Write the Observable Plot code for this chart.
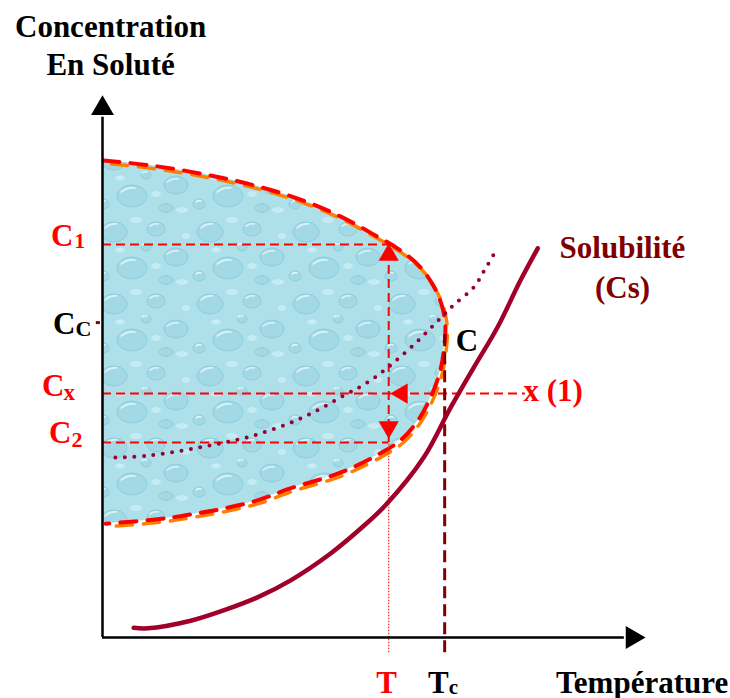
<!DOCTYPE html>
<html><head><meta charset="utf-8">
<script src="https://cdn.jsdelivr.net/npm/d3@7"></script>
<script src="https://cdn.jsdelivr.net/npm/@observablehq/plot@0.6"></script>
<style>html,body{margin:0;padding:0;background:#fff} #chart{width:730px;height:698px}</style>
</head><body><div id="chart"></div>
<script>
// ---- data (arbitrary units: temperature 0-100, concentration 0-100) ----
// boundary of the metastable (liquid-liquid) zone, [temperature, concentration]
const zoneBoundary = [[0.2,88.0],[8.9,87.1],[18.2,85.6],[27.5,83.6],[36.8,80.8],[44.2,77.7],[49.8,74.7],[55.4,71.4],[59.1,68.3],[61.5,64.9],[63.0,61.5],[63.7,58.1],[63.6,54.5],[62.8,49.3],[61.0,44.3],[58.6,40.0],[55.4,36.4],[51.7,34.0],[44.2,30.4],[34.9,27.5],[28.8,25.3],[22.5,23.8],[16.4,22.7],[10.2,21.8],[0.6,21.0]];
// solubility curve Cs
const solubility = [[5.8,1.8],[8.4,1.7],[16.4,3.1],[22.5,5.0],[28.8,7.4],[34.9,10.5],[42.4,15.5],[48.0,20.1],[52.6,24.4],[59.7,33.2],[64.7,42.4],[69.0,49.8],[73.4,57.2],[77.7,65.9],[80.9,71.8]];
// dotted curve (spinodal-like)
const dottedCurve = [[2.4,33.2],[8.9,33.6],[18.2,35.1],[27.5,37.1],[36.8,40.4],[44.8,44.6],[49.8,47.4],[54.1,50.7],[59.1,55.2],[62.8,58.9],[65.2,61.3],[69.0,64.6],[71.2,68.1],[73.4,71.8]];
// levels
const concC1 = 72.5, concCc = 58.1, concCx = 45.0, concC2 = 36.0;
const tempT = 53.2, tempTc = 63.6, tempX1 = 78.6;
const axisMaxT = 100.9, axisMaxC = 100;

const serif = "Liberation Serif, Times New Roman, serif";
const txt = (data, o) => Plot.text(data, {fontFamily: serif, fontWeight: "bold", fontSize: 31, lineAnchor: "bottom", ...o});

const plot = Plot.plot({
  width: 730, height: 698,
  x: {domain: [0, 100], range: [102, 640], axis: null},
  y: {domain: [0, 100], range: [637, 95], axis: null},
  style: {background: "white", overflow: "visible"},
  marks: [
    // zone fill
    Plot.areaX(zoneBoundary, {y: d => d[1], x1: 0, x2: d => d[0], curve: "catmull-rom", fill: "#aee0ea"}),
    // boundary dashed (orange under red)
    Plot.line(zoneBoundary, {x: d => d[0], y: d => d[1], curve: "catmull-rom", stroke: "#ff7f00", strokeWidth: 3.5, strokeDasharray: "16 11", strokeDashoffset: -6, dx: 2, dy: 3}),
    Plot.line(zoneBoundary, {x: d => d[0], y: d => d[1], curve: "catmull-rom", stroke: "#ff0000", strokeWidth: 4, strokeDasharray: "16 11"}),
    // horizontal level lines
    Plot.ruleY([concC1, concC2], {y: d => d, x1: 0, x2: tempT, stroke: "#ff0000", strokeWidth: 2, strokeDasharray: "9 5"}),
    Plot.ruleY([concCx], {y: d => d, x1: 0, x2: tempX1, stroke: "#ff0000", strokeWidth: 2, strokeDasharray: "9 5"}),
    // T vertical: dashed double arrow and dotted drop line
    Plot.ruleX([tempT], {x: d => d, y1: concC2, y2: concC1, stroke: "#ff0000", strokeWidth: 2, strokeDasharray: "9 5"}),
    Plot.ruleX([tempT], {x: d => d, y1: -2.8, y2: concC2, stroke: "#ff2020", strokeWidth: 1.2, strokeDasharray: "1.5 1.5"}),
    // Tc vertical
    Plot.ruleX([tempTc], {x: d => d, y1: -2.8, y2: concCc - 1.5, stroke: "#800000", strokeWidth: 3, strokeDasharray: "12 6"}),
    // Cc tick
    Plot.ruleY([concCc], {y: d => d, x1: -1.15, x2: -0.4, stroke: "#800000", strokeWidth: 3}),
    // dotted curve
    Plot.line(dottedCurve, {x: d => d[0], y: d => d[1], curve: "catmull-rom", stroke: "#990033", strokeWidth: 4, strokeDasharray: "0 9.5", strokeLinecap: "round"}),
    // solubility curve
    Plot.line(solubility, {x: d => d[0], y: d => d[1], curve: "catmull-rom", stroke: "#a0002a", strokeWidth: 4.5}),
    // red arrowheads
    Plot.dot([[tempT, 72.7]], {x: d => d[0], y: d => d[1], symbol: "triangle", r: 7.5, fill: "#ff0000", stroke: "none", dy: 11.5}),
    Plot.dot([[tempT, 36.7]], {x: d => d[0], y: d => d[1], symbol: "triangle", r: 7.5, fill: "#ff0000", stroke: "none", rotate: 180, dy: -11.5}),
    Plot.dot([[53.5, concCx]], {x: d => d[0], y: d => d[1], symbol: "triangle", r: 7.5, fill: "#ff0000", stroke: "none", rotate: -90, dx: 11.5}),
    // axes
    Plot.ruleX([0], {x: d => d, y1: 0, y2: 96, stroke: "black", strokeWidth: 2.5}),
    Plot.ruleY([0], {y: d => d, x1: 0, x2: 97, stroke: "black", strokeWidth: 2.5}),
    Plot.dot([[0, axisMaxC]], {x: d => d[0], y: d => d[1], symbol: "triangle", r: 8.5, fill: "black", stroke: "none", dy: 13}),
    Plot.dot([[axisMaxT, 0]], {x: d => d[0], y: d => d[1], symbol: "triangle", r: 8.5, fill: "black", stroke: "none", rotate: 90, dx: -13}),
    // axis titles
    txt(["Concentration\nEn Soluté"], {x: 1.5, y: 103.7, text: d => d, textAnchor: "middle", lineHeight: 1.23, fill: "black"}),
    txt(["Température"], {x: 116.3, y: 0, dy: 55, text: d => d, textAnchor: "end", fill: "black"}),
    // concentration labels
    txt(["C"], {x: 0, y: concC1, dx: -29, dy: 1, text: d => d, textAnchor: "end", fill: "#ff0000"}),
    txt(["1"], {x: 0, y: concC1, dx: -28, dy: 3, text: d => d, textAnchor: "start", fill: "#ff0000", fontSize: 21}),
    txt(["C"], {x: 0, y: concCc, dx: -27, dy: 11, text: d => d, textAnchor: "end", fill: "black"}),
    txt(["C"], {x: 0, y: concCc, dx: -27, dy: 13, text: d => d, textAnchor: "start", fill: "black", fontSize: 22}),
    txt(["C"], {x: 0, y: concCx, dx: -38, dy: 2, text: d => d, textAnchor: "end", fill: "#ff0000"}),
    txt(["x"], {x: 0, y: concCx, dx: -39, dy: 6, text: d => d, textAnchor: "start", fill: "#ff0000", fontSize: 23}),
    txt(["C"], {x: 0, y: concC2, dx: -31, dy: 1, text: d => d, textAnchor: "end", fill: "#ff0000"}),
    txt(["2"], {x: 0, y: concC2, dx: -31, dy: 5, text: d => d, textAnchor: "start", fill: "#ff0000", fontSize: 22}),
    // temperature labels
    txt(["T"], {x: tempT, y: 0, dx: -2, dy: 55, text: d => d, textAnchor: "middle", fill: "#ff0000"}),
    txt(["T"], {x: tempTc, y: 0, dx: 4, dy: 55, text: d => d, textAnchor: "end", fill: "black"}),
    txt(["c"], {x: tempTc, y: 0, dx: 4, dy: 56, text: d => d, textAnchor: "start", fill: "black", fontSize: 21}),
    // point C, x(1), solubility label
    txt(["C"], {x: tempTc, y: concCc, dx: 11, dy: 28, text: d => d, textAnchor: "start", fill: "black"}),
    txt(["x (1)"], {x: 78.25, y: concCx, dy: 7, text: d => d, textAnchor: "start", fill: "#ff0000"}),
    txt(["Solubilité\n(Cs)"], {x: 96.65, y: 62.73, text: d => d, textAnchor: "middle", lineHeight: 1.29, fill: "#800000"})
  ]
});

// water-droplet texture for the zone fill
const ns = "http://www.w3.org/2000/svg";
const defs = document.createElementNS(ns, "defs");
defs.innerHTML = `<pattern id="water" width="96" height="72" patternUnits="userSpaceOnUse">
<rect width="96" height="72" fill="#aee0ea"/>
<g fill="#c6ecf3"><ellipse cx="40" cy="4" rx="6" ry="3"/><ellipse cx="90" cy="20" rx="4" ry="3"/><ellipse cx="24" cy="34" rx="5" ry="2.5"/><ellipse cx="60" cy="50" rx="5" ry="3"/><ellipse cx="86" cy="66" rx="6" ry="3"/></g>
<g fill="#a3d8e5" stroke="#8fcddd" stroke-width="1">
<ellipse cx="18" cy="16" rx="13" ry="10"/><ellipse cx="60" cy="13" rx="9" ry="7"/><ellipse cx="80" cy="41" rx="12" ry="9"/>
<ellipse cx="36" cy="52" rx="15" ry="11"/><ellipse cx="7" cy="60" rx="6" ry="5"/><ellipse cx="70" cy="64" rx="7" ry="4.5"/><ellipse cx="50" cy="31" rx="5" ry="4"/></g>
<g fill="none" stroke="#dcf5f8" stroke-width="1.6" stroke-linecap="round">
<path d="M9,12 q5,-5 12,-4"/><path d="M54,10 q4,-3 8,-2"/><path d="M71,38 q5,-4 11,-3"/><path d="M25,48 q6,-5 14,-4"/><path d="M4,58 q2,-2 5,-1"/><path d="M46,29 q2,-2 5,-1"/></g>
</pattern>`;
plot.insertBefore(defs, plot.firstChild);
const areaPath = plot.querySelector('g[aria-label="area"] path');
if (areaPath) areaPath.setAttribute("fill", "url(#water)");
document.getElementById("chart").appendChild(plot);
</script>
</body></html>
